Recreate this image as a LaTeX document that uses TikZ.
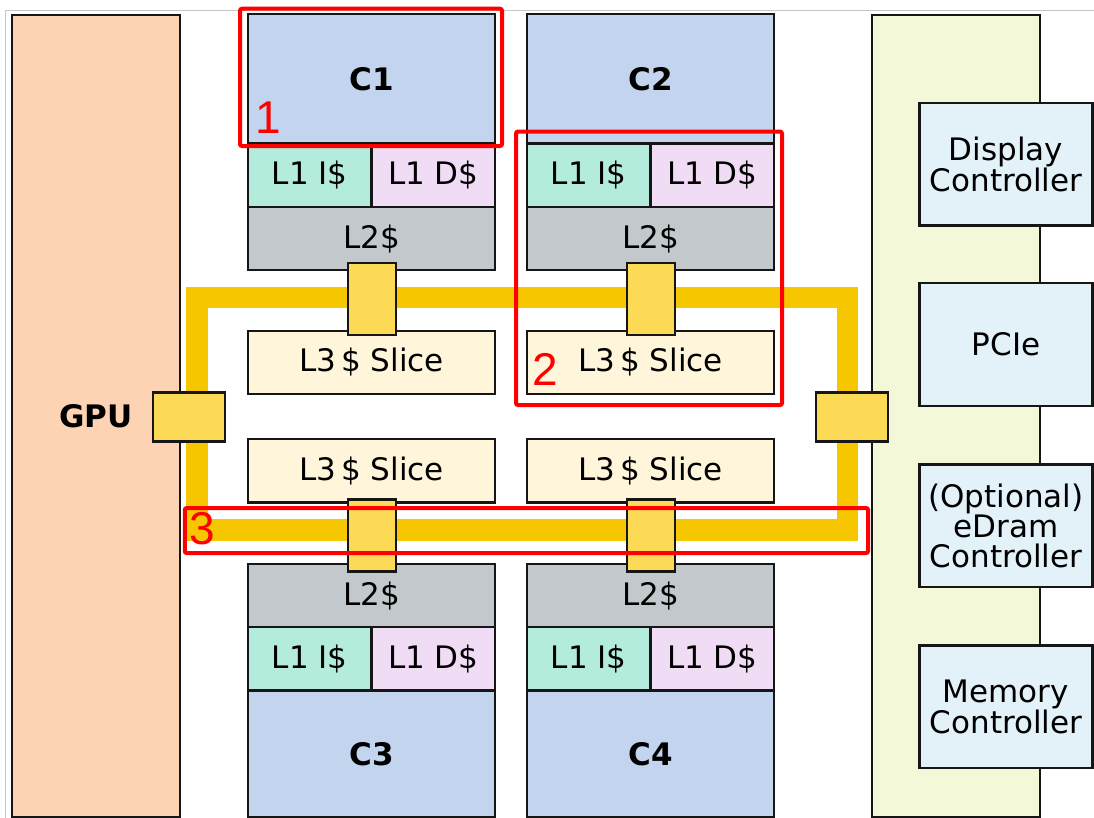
\documentclass[tikz,border=0pt]{standalone}
\usepackage{fontspec}
\setmainfont{DejaVu Sans}
\newfontfamily\marknum{Liberation Sans}
\usepackage{tikz}
\usetikzlibrary{positioning}

\definecolor{edge}{HTML}{161616}
\definecolor{gpufill}{HTML}{FDD3B4}
\definecolor{corefill}{HTML}{C3D4EF}
\definecolor{icache}{HTML}{B3EBDD}
\definecolor{dcache}{HTML}{F0DCF4}
\definecolor{ltwo}{HTML}{C2C8CB}
\definecolor{lthree}{HTML}{FEF5DB}
\definecolor{stop}{HTML}{FDDA55}
\definecolor{ringcol}{HTML}{F6C700}
\definecolor{agentfill}{HTML}{F3F8D9}
\definecolor{ctlfill}{HTML}{E3F1F9}
\definecolor{mark}{HTML}{FF0000}

\tikzset{
  blk/.style={draw=edge,line width=2.4pt,inner sep=0pt,align=center,
    font=\fontsize{31}{30}\selectfont},
  core/.style={blk,fill=corefill,minimum width=247pt,font=\fontsize{31}{30}\selectfont\bfseries},
  lonei/.style={blk,fill=icache,minimum width=123.5pt,minimum height=63.8pt},
  loned/.style={blk,fill=dcache,minimum width=123.5pt,minimum height=63.8pt},
  ltwobox/.style={blk,fill=ltwo,minimum width=247pt,minimum height=63pt},
  slice/.style={blk,fill=lthree,minimum width=247pt,minimum height=63.5pt},
  ringstop/.style={blk,fill=stop,minimum width=48pt,minimum height=72pt},
  sidestop/.style={blk,fill=stop,minimum width=72pt,minimum height=49pt},
  ctl/.style={blk,fill=ctlfill,minimum width=173pt,minimum height=122.5pt},
  hilite/.style={draw=mark,line width=4pt,rounded corners=2pt,inner sep=0pt},
  hilabel/.style={text=mark,inner sep=0pt,font=\marknum\fontsize{46}{46}\selectfont}
}

\begin{document}
\begin{tikzpicture}[x=1pt,y=-1pt]
  \useasboundingbox (0,0) rectangle (1094,818);
  \draw[black!22,line width=1pt] (5,818) -- (5,10.5) -- (1094,10.5);

  \coordinate (ringnw) at (196.8,297.5);
  \coordinate (ringse) at (847.5,529.9);
  \draw[ringcol,line width=21.5pt] (ringnw) rectangle (ringse);

  \node[blk,fill=gpufill,minimum width=168pt,minimum height=802pt,font=\fontsize{31}{30}\selectfont\bfseries] (gpu) at (96,416) {GPU};
  \node[blk,fill=agentfill,minimum width=168pt,minimum height=802pt] (agent) at (956,416) {};

  \node[ctl] (disp) at (1006,164.2) {Display\\Controller};
  \node[ctl] (pcie) at (1006,344.5) {PCIe};
  \node[ctl] (edram) at (1006,525.6) {(Optional)\\eDram\\Controller};
  \node[ctl] (memctl) at (1006,706.8) {Memory\\Controller};

  \node[core,minimum height=129.5pt] (c1) at (371.5,78.8) {C1};
  \node[lonei] (c1i) at (309.75,175.4) {L1 I\$};
  \node[loned] (c1d) at (433.25,175.4) {L1 D\$};
  \node[ltwobox] (c1l2) at (371.5,238.7) {L2\$};
  \node[slice] (c1l3) at (371.5,362.5) {L3\,\$ Slice};
  \node[ringstop] (c1stop) at (371.7,299) {};

  \node[core,minimum height=129.5pt] (c2) at (650.5,78.8) {C2};
  \node[lonei] (c2i) at (588.75,175.4) {L1 I\$};
  \node[loned] (c2d) at (712.25,175.4) {L1 D\$};
  \node[ltwobox] (c2l2) at (650.5,238.7) {L2\$};
  \node[slice] (c2l3) at (650.5,362.5) {L3\,\$ Slice};
  \node[ringstop] (c2stop) at (650.7,299) {};

  \node[slice] (c3l3) at (371.5,470.8) {L3\,\$ Slice};
  \node[ltwobox] (c3l2) at (371.5,595.5) {L2\$};
  \node[lonei] (c3i) at (309.75,658.8) {L1 I\$};
  \node[loned] (c3d) at (433.25,658.8) {L1 D\$};
  \node[core,minimum height=126.5pt] (c3) at (371.5,753.8) {C3};
  \node[ringstop] (c3stop) at (371.7,535.4) {};

  \node[slice] (c4l3) at (650.5,470.8) {L3\,\$ Slice};
  \node[ltwobox] (c4l2) at (650.5,595.5) {L2\$};
  \node[lonei] (c4i) at (588.75,658.8) {L1 I\$};
  \node[loned] (c4d) at (712.25,658.8) {L1 D\$};
  \node[core,minimum height=126.5pt] (c4) at (650.5,753.8) {C4};
  \node[ringstop] (c4stop) at (650.7,535.4) {};

  \node[sidestop] (gpustop) at (188.7,417) {};
  \node[sidestop] (agentstop) at (851.7,417) {};

  \node[hilite,minimum width=262pt,minimum height=137.3pt] (hl1) at (371,77.4) {};
  \node[hilite,minimum width=266pt,minimum height=273.5pt] (hl2) at (649,268.3) {};
  \node[hilite,minimum width=683.3pt,minimum height=45pt] (hl3) at (526.4,530.5) {};
  \node[hilabel] (n1) at (268,118) {1};
  \node[hilabel] (n2) at (545,369) {2};
  \node[hilabel] (n3) at (202,529) {3};
\end{tikzpicture}
\end{document}
